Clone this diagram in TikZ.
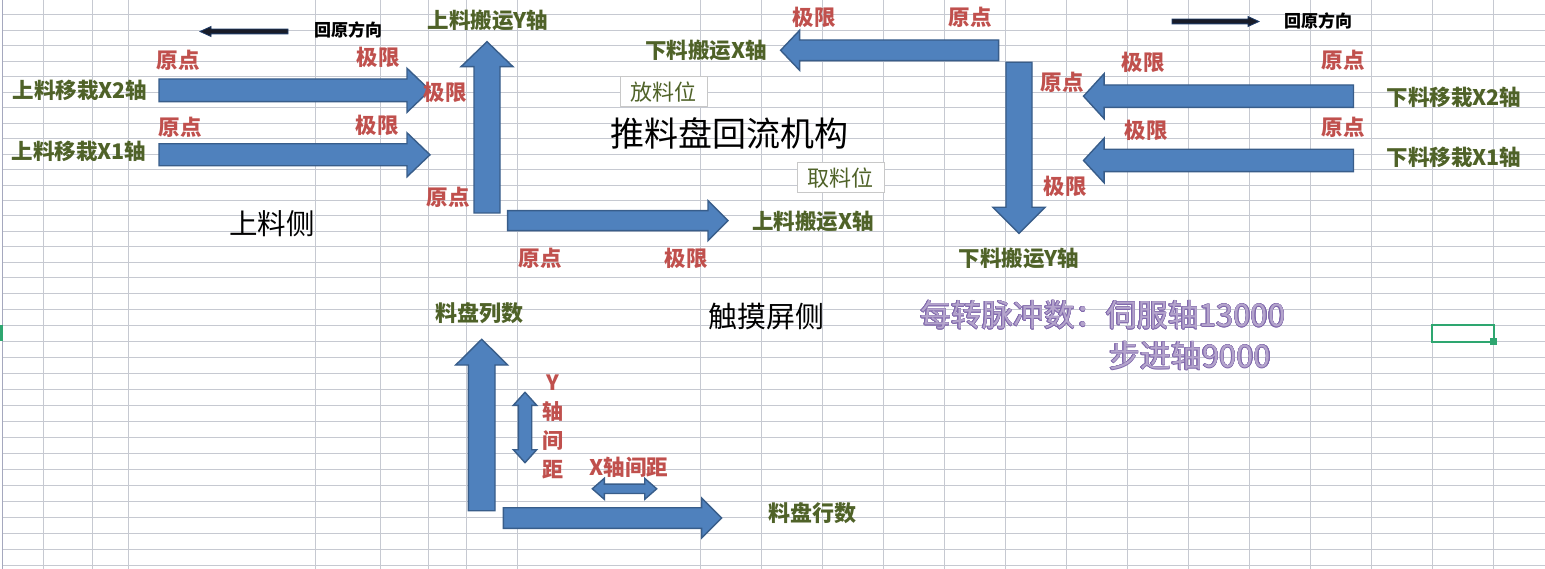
\documentclass[tikz,border=0pt]{standalone}
\usepackage{fontspec}
\usepackage{contour}
\setmainfont{Noto Sans CJK SC}

\definecolor{gridgray}{RGB}{198,201,209}
\definecolor{headeredge}{RGB}{165,168,190}
\definecolor{arrowblue}{RGB}{79,129,189}
\definecolor{arrowedge}{RGB}{56,93,138}
\definecolor{darkarrow}{RGB}{25,28,40}
\definecolor{darkedge}{RGB}{31,60,105}
\definecolor{labelgreen}{RGB}{79,98,40}
\definecolor{labelred}{RGB}{192,80,77}
\definecolor{pulsefill}{RGB}{180,164,204}
\definecolor{pulseedge}{RGB}{128,104,172}
\definecolor{selgreen}{RGB}{46,166,112}
\definecolor{boxgray}{RGB}{200,200,200}

\contourlength{0.45pt}
\contournumber{16}

% block arrow: tail x, tail y, angle, length, body half width, head half width, head length
\newcommand{\barrow}[8][blockarrow]{%
  \begin{scope}[shift={(#2,#3)}, rotate=#4]
    \filldraw[#1] (0,-#6) -- (#5-#8,-#6) -- (#5-#8,-#7) -- (#5,0) -- (#5-#8,#7) -- (#5-#8,#6) -- (0,#6) -- cycle;
  \end{scope}}

% double block arrow: centre x, centre y, angle, length, body half width, head half width, head length
\newcommand{\dbarrow}[7]{%
  \begin{scope}[shift={(#1,#2)}, rotate=#3]
    \filldraw[blockarrow] (-#4/2,0) -- (-#4/2+#7,-#6) -- (-#4/2+#7,-#5) -- (#4/2-#7,-#5) -- (#4/2-#7,-#6)
      -- (#4/2,0) -- (#4/2-#7,#6) -- (#4/2-#7,#5) -- (-#4/2+#7,#5) -- (-#4/2+#7,#6) -- cycle;
  \end{scope}}

\begin{document}
\begin{tikzpicture}[x=1pt, y=-1pt,
  gridline/.style={draw=gridgray, line width=1pt},
  blockarrow/.style={fill=arrowblue, draw=arrowedge, line width=1.4pt, line join=miter},
  homearrow/.style={fill=darkarrow, draw=darkedge, line width=0.8pt, line join=miter},
  axislabel/.style={text=labelgreen, inner sep=0pt, font=\bfseries\fontsize{21.5}{21.5}\selectfont},
  limitlabel/.style={text=labelred, inner sep=0pt, font=\bfseries\fontsize{21.5}{21.5}\selectfont},
  homedir/.style={text=black, inner sep=0pt, font=\bfseries\fontsize{17}{17}\selectfont},
  posbox/.style={draw=boxgray, fill=white, line width=1pt, minimum width=87, minimum height=30,
    inner sep=0pt, text=labelgreen, font=\fontsize{22}{22}\selectfont},
  sidetitle/.style={text=black, inner sep=0pt},
  pulse/.style={inner sep=0pt, anchor=west, font=\fontsize{31}{31}\selectfont}]

  \useasboundingbox (0,0) rectangle (1545,569);
  \fill[white] (0,0) rectangle (1545,569);

  % sheet grid
  \foreach \k in {0,...,18}
    \draw[gridline] (3,15+15.46*\k) -- (1545,15+15.46*\k);
  \foreach \k in {1,...,17}
    \draw[gridline] (3,293.3+16*\k) -- (1545,293.3+16*\k);
  \foreach \c in {43,92,128,315,380,428,466,517,700,761,822,883,944,1005,1066,1127,1188,1249,1310,1371,1432,1493}
    \draw[gridline] (\c,0) -- (\c,569);
  \draw[headeredge, line width=1.2pt] (2.7,0) -- (2.7,569);

  % selected cell
  \fill[selgreen] (0,325) rectangle (3,341);
  \draw[selgreen, line width=2.2pt] (1432,325) rectangle (1494,342);
  \fill[selgreen] (1490,338) rectangle (1497,345);

  % homing direction hints
  \barrow[homearrow]{288}{31.5}{180}{88}{2.4}{5}{11}
  \node[homedir] (homeL) at (348,30) {回原方向};
  \barrow[homearrow]{1172}{21.5}{0}{87}{2.4}{5}{11}
  \node[homedir] (homeR) at (1318,21) {回原方向};

  % loading side
  \barrow{159}{90.3}{0}{271}{11.3}{22}{23}
  \barrow{159}{154.8}{0}{271}{11}{22}{23}
  \barrow{487}{213}{90}{171.3}{13}{26}{25}
  \barrow{507.6}{220.7}{0}{220.4}{10}{20}{20}
  \node[axislabel] (loadX2) at (80,90) {上料移栽X2轴};
  \node[axislabel] (loadX1) at (79,151) {上料移栽X1轴};
  \node[axislabel] (loadY) at (488,20) {上料搬运Y轴};
  \node[axislabel] (loadX) at (813,221) {上料搬运X轴};
  \node[limitlabel] (orgX2) at (178,60) {原点};
  \node[limitlabel] (limX2) at (378,57) {极限};
  \node[limitlabel] (limY) at (445,92) {极限};
  \node[limitlabel] (orgX1) at (180,127) {原点};
  \node[limitlabel] (limX1) at (377,125) {极限};
  \node[limitlabel] (orgY) at (448,197) {原点};
  \node[limitlabel] (orgX) at (540,258) {原点};
  \node[limitlabel] (limX) at (686,258) {极限};
  \node[sidetitle, font=\fontsize{28.5}{28.5}\selectfont] (loadSide) at (272,224) {上料侧};

  % unloading side
  \barrow{998.6}{50.3}{180}{218}{10.3}{20}{19}
  \barrow{1019}{62.3}{-90}{171}{13}{26}{26}
  \barrow{1353.5}{96.2}{180}{270}{11.2}{22.5}{20.6}
  \barrow{1353.5}{160.5}{180}{270}{11.2}{22.3}{20.6}
  \node[axislabel] (unloadX) at (706,50) {下料搬运X轴};
  \node[axislabel] (unloadY) at (1019,258) {下料搬运Y轴};
  \node[axislabel] (unloadX2) at (1454,97) {下料移栽X2轴};
  \node[axislabel] (unloadX1) at (1454,157) {下料移栽X1轴};
  \node[limitlabel] (limUX) at (814,17) {极限};
  \node[limitlabel] (orgUX) at (970,17) {原点};
  \node[limitlabel] (limUX2) at (1143,62) {极限};
  \node[limitlabel] (orgUX2) at (1343,60) {原点};
  \node[limitlabel] (orgUY) at (1062,82) {原点};
  \node[limitlabel] (limUX1) at (1146,130) {极限};
  \node[limitlabel] (orgUX1) at (1343,127) {原点};
  \node[limitlabel] (limUY) at (1065,186) {极限};

  % centre
  \node[posbox] (putPos) at (663.5,92) {放料位};
  \node[posbox] (pickPos) at (840.5,178) {取料位};
  \node[sidetitle, font=\fontsize{34}{34}\selectfont] (title) at (729,133) {推料盘回流机构};

  % tray layout
  \barrow{481.7}{510.7}{90}{171.4}{13.3}{26}{25.7}
  \barrow{503.3}{518}{0}{218.4}{10.3}{20}{20}
  \dbarrow{525}{427.5}{90}{70.4}{6.7}{11.7}{13}
  \dbarrow{624.5}{488.8}{0}{64.4}{4.7}{10.5}{12}
  \node[axislabel, font=\bfseries\fontsize{22}{22}\selectfont] (trayCols) at (479,313) {料盘列数};
  \node[axislabel, font=\bfseries\fontsize{22}{22}\selectfont] (trayRows) at (812,513) {料盘行数};
  \node[limitlabel, align=center, font=\bfseries\fontsize{21}{29}\selectfont] (yGap) at (553,427) {Y\\轴\\间\\距};
  \node[limitlabel] (xGap) at (629,467) {X轴间距};
  \node[sidetitle, font=\fontsize{29}{29}\selectfont] (touchSide) at (766,316) {触摸屏侧};

  % pulses per revolution
  \node[pulse] (pulseServo) at (920,315) {\contour{pulseedge}{\textcolor{pulsefill}{每转脉冲数：伺服轴13000}}};
  \node[pulse] (pulseStep) at (1109,356) {\contour{pulseedge}{\textcolor{pulsefill}{步进轴9000}}};
\end{tikzpicture}
\end{document}
